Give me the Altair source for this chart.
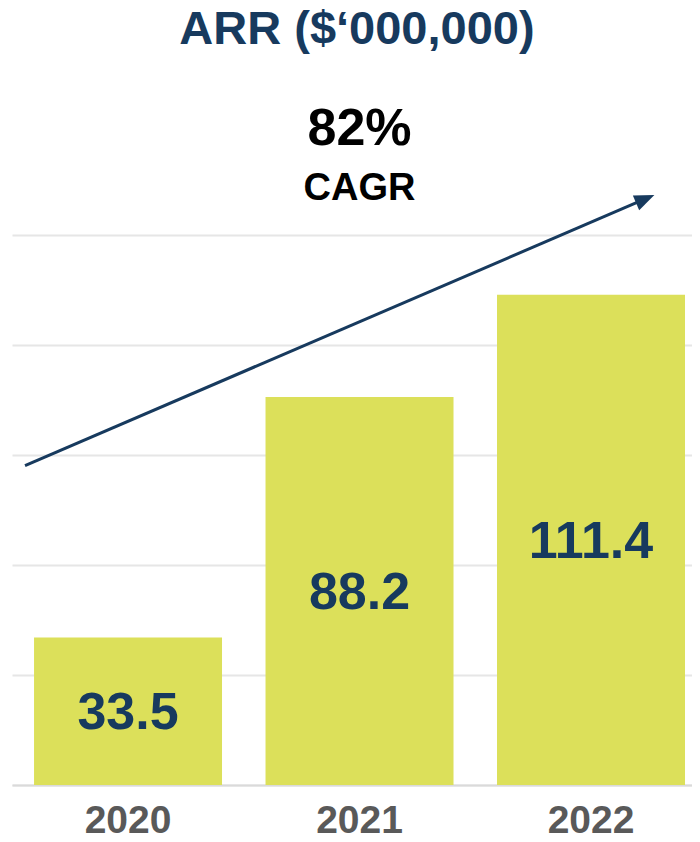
import altair as alt
import pandas as pd

# ---- data ----
years = ["2020", "2021", "2022"]
arr_values = [33.5, 88.2, 111.4]
value_labels = ["33.5", "88.2", "111.4"]

grid_values = [0, 25, 50, 75, 100, 125]
y_max = 165

cagr_text = ["82%", "CAGR"]
cagr_y = [145.5, 133.0]
cagr_x = ["2021", "2021"]

# annotation arrow in a 0..3 horizontal unit space spanning the plot
arrow_u = [0.0574, 2.7935]
arrow_y = [72.6, 133.2]
arrow_angle = 336.7

NAVY = "#173A5E"
BAR = "#DCE05A"
GRAY = "#595959"
FONT = "Liberation Sans"

bars_df = pd.DataFrame({"year": years, "value": arr_values, "label": value_labels})
bars_df["mid"] = bars_df["value"] / 2
cagr_top = pd.DataFrame({"year": cagr_x[:1], "y": cagr_y[:1], "t": cagr_text[:1]})
cagr_bot = pd.DataFrame({"year": cagr_x[1:], "y": cagr_y[1:], "t": cagr_text[1:]})
arrow_df = pd.DataFrame({"u": arrow_u, "y": arrow_y, "order": [0, 1]})
head_df = pd.DataFrame({"u": arrow_u[1:], "y": arrow_y[1:]})

yscale = alt.Scale(domain=[0, y_max], nice=False, zero=True)
xscale = alt.Scale(domain=years, paddingInner=0.1879, paddingOuter=0.0627, align=0.759)

base = alt.Chart(bars_df)

bars = base.mark_bar(color=BAR).encode(
    x=alt.X("year:N", scale=xscale, sort=years,
            axis=alt.Axis(title=None, labelAngle=0, labelFont=FONT, labelFontSize=39,
                          labelFontWeight="bold", labelColor=GRAY, labelPadding=47,
                          labelBaseline="alphabetic", ticks=False, domainColor="#DADADA",
                          domainWidth=2)),
    y=alt.Y("value:Q", scale=yscale,
            axis=alt.Axis(values=grid_values, grid=True, labels=False, ticks=False,
                          domain=False, title=None, gridColor="#E6E6E6", gridWidth=2)),
)

labels = base.mark_text(font=FONT, fontSize=52, fontWeight="bold", color=NAVY,
                        baseline="middle", dy=2).encode(
    x=alt.X("year:N", scale=xscale, sort=years),
    y=alt.Y("mid:Q", scale=yscale),
    text="label:N",
)

cagr1 = alt.Chart(cagr_top).mark_text(font=FONT, fontSize=52, fontWeight="bold",
                                      color="#000000", baseline="alphabetic").encode(
    x=alt.X("year:N", scale=xscale, sort=years),
    y=alt.Y("y:Q", scale=yscale),
    text="t:N",
)
cagr2 = alt.Chart(cagr_bot).mark_text(font=FONT, fontSize=38, fontWeight="bold",
                                      color="#000000", baseline="alphabetic").encode(
    x=alt.X("year:N", scale=xscale, sort=years),
    y=alt.Y("y:Q", scale=yscale),
    text="t:N",
)

uscale = alt.Scale(domain=[0, 3], nice=False, zero=False)
arrow_line = alt.Chart(arrow_df).mark_line(color=NAVY, strokeWidth=3).encode(
    x=alt.X("u:Q", scale=uscale, axis=None),
    y=alt.Y("y:Q", scale=yscale),
    order="order:Q",
)
arrow_head = alt.Chart(head_df).mark_point(
    shape="M-1,-0.8L1,0L-1,0.8Z", filled=True, size=400, angle=arrow_angle,
    color=NAVY, opacity=1, strokeWidth=0).encode(
    x=alt.X("u:Q", scale=uscale, axis=None),
    y=alt.Y("y:Q", scale=yscale),
)

chart = alt.layer(
    alt.layer(bars, labels, cagr1, cagr2),
    alt.layer(arrow_line, arrow_head),
).resolve_scale(x="independent").properties(
    width=680,
    height=726,
    title=alt.Title("ARR ($\u2018000,000)", font=FONT, fontSize=47, fontWeight="bold",
                    color=NAVY, anchor="middle", offset=16, dy=48, dx=5,
                    baseline="alphabetic"),
    autosize=alt.AutoSizeParams(type="none"),
    padding={"left": 4, "top": 51, "right": 0, "bottom": 55},
).configure_view(stroke=None)

chart.save("out.html", embed_options={"renderer": "svg", "actions": False})
